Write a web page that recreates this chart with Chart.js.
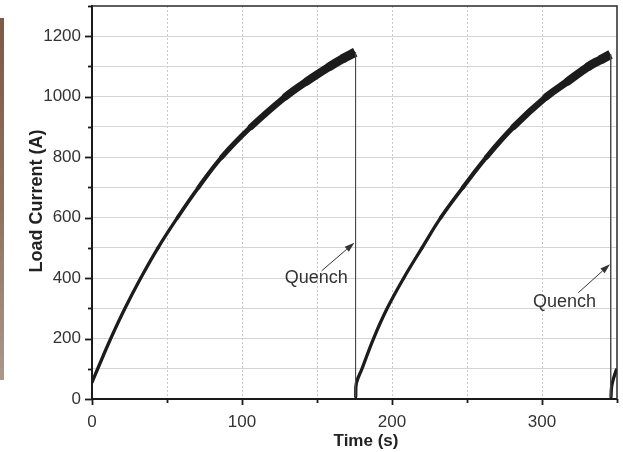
<!DOCTYPE html>
<html>
<head>
<meta charset="utf-8">
<script src="https://cdn.jsdelivr.net/npm/chart.js@4.4.1/dist/chart.umd.min.js"></script>
<style>
    html, body { margin: 0; padding: 0; background: #fff; }
    #quadro { width: 623px; height: 452px; position: relative; }
</style>
</head>
<body>
<div id="quadro"><canvas id="grafico"></canvas></div>
<script>
// Primeira rampa de corrente (tempo em s, corrente em A)
const rampa1Tempo = [0, 3.8, 12.5, 22, 32.5, 44, 57, 71, 86.5, 106, 129, 143, 158.5, 167, 175.5];
const rampa1Corrente = [55, 100, 200, 300, 400, 500, 600, 700, 800, 900, 1000, 1050, 1100, 1125, 1147];

// Segunda rampa, depois do primeiro quench
const rampa2Tempo = [175.8, 176.3, 180, 187.7, 196.8, 207.8, 220, 232.5, 247.3, 263, 281, 303, 317, 331, 339, 345.7];
const rampa2Corrente = [8, 53, 100, 200, 300, 400, 500, 600, 700, 800, 900, 1000, 1050, 1100, 1122, 1140];

// Inicio da terceira rampa
const rampa3Tempo = [346, 346.4, 347.5, 349.8];
const rampa3Corrente = [7, 40, 65, 100];

// Quedas de corrente (quench)
const quench1Tempo = [175.7, 175.7];
const quench1Corrente = [1147, 8];
const quench2Tempo = [345.8, 345.8];
const quench2Corrente = [1140, 6];

// Rotulos
const rotuloQuench = 'Quench';
const tituloX = 'Time (s)';
const tituloY = 'Load Current (A)';

// Posicao das anotacoes (em unidades dos eixos)
const anotacoes = [
    { texto: [149.5, 399], seta: [153.1, 424, 174.9, 517] },
    { texto: [315, 321], seta: [324.2, 351.6, 345.3, 445.6] }
];

const fonte = "'Liberation Sans', Arial, Helvetica, sans-serif";

function pares(xs, ys) {
    return xs.map((x, i) => ({ x: x, y: ys[i] }));
}

// Espessura da faixa de ruido cresce com a corrente
function larguraRuido(ctx) {
    const i = (ctx.p0.parsed.y + ctx.p1.parsed.y) / 2;
    if (i <= 500) return 3.3;
    const f = (i - 500) / 640;
    return 3.3 + 6.2 * f * f;
}

// Ponta reta no fim de cada rampa, redonda nas juncoes
function pontaRampa(ctx) {
    const n = ctx.chart.data.datasets[ctx.datasetIndex].data.length - 1;
    return ctx.p1DataIndex === n ? 'butt' : 'round';
}

function rampa(xs, ys) {
    return {
        data: pares(xs, ys),
        borderColor: '#1c1c1c',
        borderWidth: 3.3,
        pointRadius: 0,
        tension: 0.4,
        borderCapStyle: 'round',
        borderJoinStyle: 'round',
        segment: { borderWidth: larguraRuido, borderCapStyle: pontaRampa }
    };
}

function quench(xs, ys) {
    return {
        data: pares(xs, ys),
        borderColor: '#4a4a4a',
        borderWidth: 1,
        pointRadius: 0
    };
}

function desenhaSeta(ctx, x1, y1, x2, y2) {
    const ang = Math.atan2(y2 - y1, x2 - x1);
    const L = 10, W = 3.2;
    const bx = x2 - L * Math.cos(ang), by = y2 - L * Math.sin(ang);
    ctx.beginPath();
    ctx.moveTo(x1, y1);
    ctx.lineTo(bx, by);
    ctx.stroke();
    ctx.beginPath();
    ctx.moveTo(x2, y2);
    ctx.lineTo(bx + W * Math.sin(ang), by - W * Math.cos(ang));
    ctx.lineTo(bx - W * Math.sin(ang), by + W * Math.cos(ang));
    ctx.closePath();
    ctx.fill();
}

// Fundo: faixa marrom na borda esquerda
const fundoPlugin = {
    id: 'fundo',
    beforeDraw(chart) {
        const ctx = chart.ctx;
        const g = ctx.createLinearGradient(0, 18, 0, 380);
        g.addColorStop(0, '#7d5a48');
        g.addColorStop(0.5, '#8e6f5d');
        g.addColorStop(1, '#a8998c');
        ctx.save();
        ctx.fillStyle = g;
        ctx.fillRect(0, 18, 4, 362);
        ctx.restore();
    }
};

// Moldura, marcas dos eixos, titulos e anotacoes
const molduraPlugin = {
    id: 'moldura',
    afterDraw(chart) {
        const ctx = chart.ctx;
        const a = chart.chartArea;
        const sx = chart.scales.x, sy = chart.scales.y;
        ctx.save();

        // moldura superior e direita
        ctx.strokeStyle = '#2a2a2a';
        ctx.lineWidth = 1.5;
        ctx.beginPath();
        ctx.moveTo(a.left, a.top);
        ctx.lineTo(a.right, a.top);
        ctx.lineTo(a.right, a.bottom);
        ctx.stroke();

        // marcas
        ctx.strokeStyle = '#1a1a1a';
        ctx.lineWidth = 1.8;
        for (let v = 0; v <= 1300; v += 100) {
            const y = Math.round(sy.getPixelForValue(v)) + 0.5;
            const len = v % 200 === 0 ? 7 : 4;
            ctx.beginPath();
            ctx.moveTo(a.left, y);
            ctx.lineTo(a.left - len, y);
            ctx.stroke();
        }
        for (let v = 0; v <= 350; v += 50) {
            const x = Math.round(sx.getPixelForValue(v)) + 0.5;
            const len = v % 100 === 0 ? 6 : 4;
            ctx.beginPath();
            ctx.moveTo(x, a.bottom);
            ctx.lineTo(x, a.bottom + len);
            ctx.stroke();
        }

        // titulos dos eixos
        ctx.fillStyle = '#222';
        ctx.textAlign = 'center';
        ctx.textBaseline = 'middle';
        ctx.font = 'bold 17px ' + fonte;
        ctx.fillText(tituloX, 366, 441);
        ctx.save();
        ctx.translate(37, 201);
        ctx.rotate(-Math.PI / 2);
        ctx.font = 'bold 18px ' + fonte;
        ctx.fillText(tituloY, 0, 0);
        ctx.restore();

        // anotacoes de quench
        ctx.fillStyle = '#333';
        ctx.strokeStyle = '#333';
        ctx.lineWidth = 1;
        ctx.font = '18px ' + fonte;
        anotacoes.forEach(n => {
            ctx.fillText(rotuloQuench, sx.getPixelForValue(n.texto[0]), sy.getPixelForValue(n.texto[1]));
            desenhaSeta(ctx,
                sx.getPixelForValue(n.seta[0]), sy.getPixelForValue(n.seta[1]),
                sx.getPixelForValue(n.seta[2]), sy.getPixelForValue(n.seta[3]));
        });
        ctx.restore();
    }
};

const ctxGrafico = document.getElementById('grafico').getContext('2d');

const grafico = new Chart(ctxGrafico, {
    type: 'line',
    data: {
        datasets: [
            quench(quench1Tempo, quench1Corrente),
            quench(quench2Tempo, quench2Corrente),
            rampa(rampa1Tempo, rampa1Corrente),
            rampa(rampa2Tempo, rampa2Corrente),
            rampa(rampa3Tempo, rampa3Corrente)
        ]
    },
    options: {
        responsive: true,
        maintainAspectRatio: false,
        animation: false,
        devicePixelRatio: 1,
        layout: { padding: { top: 6, right: 6, left: 0, bottom: 0 } },
        plugins: {
            legend: { display: false },
            tooltip: { enabled: false }
        },
        scales: {
            x: {
                type: 'linear',
                min: 0,
                max: 350,
                ticks: {
                    stepSize: 50,
                    autoSkip: false,
                    maxRotation: 0,
                    padding: 13,
                    color: '#333',
                    font: { family: fonte, size: 17 },
                    callback: v => (v % 100 === 0 ? v : '')
                },
                grid: {
                    drawTicks: false,
                    color: '#c9c9c9',
                    lineWidth: c => (c.tick && (c.tick.value === 0 || c.tick.value === 350) ? 0 : 1)
                },
                border: { display: true, color: '#1a1a1a', width: 2, dash: [2, 2] },
                afterFit: s => { s.height = 53; s.paddingLeft = 0; s.paddingRight = 0; }
            },
            y: {
                type: 'linear',
                min: 0,
                max: 1300,
                ticks: {
                    stepSize: 100,
                    autoSkip: false,
                    padding: 11,
                    color: '#333',
                    font: { family: fonte, size: 17 },
                    callback: v => (v % 200 === 0 ? v : '')
                },
                grid: {
                    drawTicks: false,
                    color: '#d4d4d4',
                    lineWidth: c => (c.tick && (c.tick.value === 0 || c.tick.value === 1300) ? 0 : 1)
                },
                border: { display: true, color: '#1a1a1a', width: 2 },
                afterFit: s => { s.width = 92; s.paddingTop = 0; s.paddingBottom = 0; }
            }
        }
    },
    plugins: [fundoPlugin, molduraPlugin]
});
</script>
</body>
</html>
